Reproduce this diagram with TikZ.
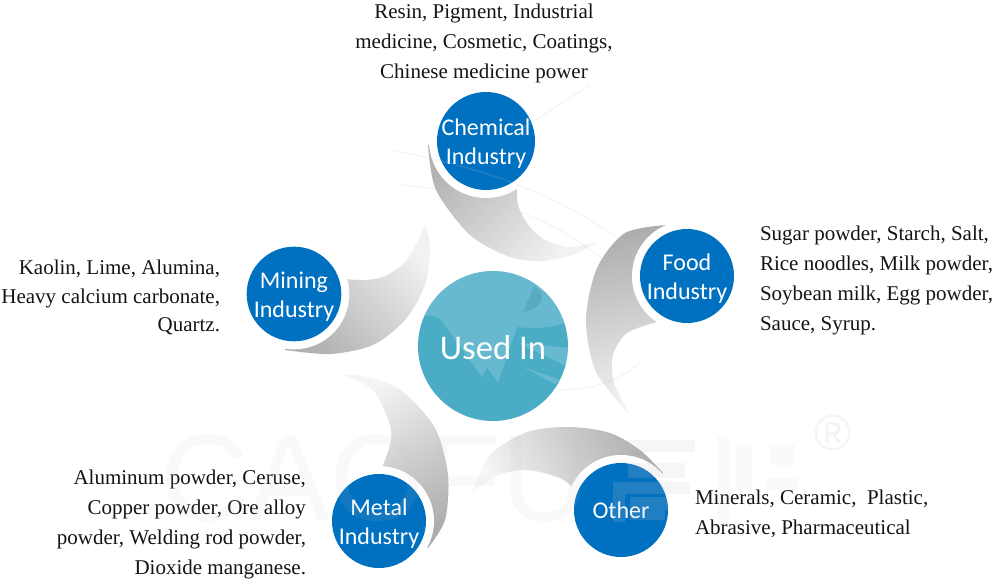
\documentclass[tikz,border=0pt]{standalone}
\usepackage{fontspec}
\setmainfont{Liberation Serif}
\newfontfamily\hubfont{Carlito}
\newfontfamily\markfont{Liberation Sans}
\definecolor{hubblue}{HTML}{0070C0}
\definecolor{coreteal}{HTML}{4BACC6}
\definecolor{markgrey}{HTML}{C8C8C8}
\tikzset{
  hub/.style={circle,fill=hubblue,inner sep=0pt,outer sep=0pt,
    preaction={draw=white,line width=12pt}},
  hublabel/.style={text=white,inner sep=0pt,align=center,yshift=-2.25pt,
    font=\hubfont\fontsize{18}{21.8}\selectfont},
  core/.style={circle,fill=coreteal,text=white,inner sep=0pt,outer sep=0pt,
    font=\hubfont\fontsize{26}{32}\selectfont},
  blurb/.style={inner sep=0pt,outer sep=0pt,text=black!92,font=\fontsize{15.75}{22.4}\selectfont},
  tightblurb/.style={blurb,font=\fontsize{15.75}{21.4}\selectfont},
  swoosh/.style={draw=none},
  wm/.style={fill=markgrey,fill opacity=.17,draw=none},
  wmpale/.style={fill=markgrey,fill opacity=.09,draw=none},
  wmline/.style={draw=markgrey,draw opacity=.18,line width=1pt}
}
\begin{document}
\begin{tikzpicture}[x=.75pt,y=-.75pt]
\useasboundingbox (0,0) rectangle (1000,581);
% swooshes
\shade[swoosh,top color=black!30,bottom color=black!5,shading angle=45]
  plot[smooth] coordinates {(428,145) (436,190) (470,235) (510,257) (543,261) (575,254) (597,242)}
  -- plot[smooth] coordinates {(597,242) (567,247) (542,238) (527,223) (518,205) (517,185)}
  -- (486,140) -- cycle;
\shade[swoosh,top color=black!5,bottom color=black!30,shading angle=-45]
  plot[smooth] coordinates {(425,225) (430,247) (425,285) (405,320) (373,345) (330,354) (285,350)}
  -- (294,294) -- (345,279)
  -- plot[smooth] coordinates {(345,279) (365,280) (385,276) (407,260) (425,225)}
  -- cycle;
\shade[swoosh,top color=black!4,bottom color=black!32,shading angle=30]
  plot[smooth] coordinates {(340,374) (372,378) (403,392) (435,428) (448,475) (445,520) (428,548)}
  -- (379,521) -- (381,470)
  -- plot[smooth] coordinates {(381,470) (390,445) (390,425) (373,390) (340,374)}
  -- cycle;
\shade[swoosh,top color=black!32,bottom color=black!3,shading angle=-65]
  plot[smooth] coordinates {(472,493) (490,455) (527,432) (570,427) (610,433) (640,450) (663,473)}
  -- (621,510) -- (575,490)
  -- plot[smooth] coordinates {(575,490) (560,478) (527,470) (495,476) (472,493)}
  -- cycle;
\shade[swoosh,top color=black!32,bottom color=black!4,shading angle=10]
  plot[smooth] coordinates {(667,225) (625,233) (597,268) (586,320) (596,372) (630,415)}
  -- plot[smooth] coordinates {(630,415) (614,383) (613,355) (627,333) (657,322)}
  -- (688,276) -- cycle;
% hubs
\node[core,minimum size=112.5pt] (usedin) at (493,346) {\rule{0pt}{21pt}Used In};
\node[hub,minimum size=73.5pt,label={[hublabel]center:Chemical\\Industry}] (chem) at (486,141) {};
\node[hub,minimum size=70.5pt,label={[hublabel]center:Food\\Industry}] (food) at (687,276) {};
\node[hub,minimum size=71pt,label={[hublabel]center:Mining\\Industry}] (mining) at (294,294) {};
\node[hub,minimum size=70.5pt,label={[hublabel]center:Metal\\Industry}] (metal) at (379,521) {};
\node[hub,minimum size=70.5pt,label={[hublabel,yshift=2.25pt]center:Other}] (other) at (621,510) {};
% blurbs
\node[blurb,align=center,anchor=north] (chemtext) at (484,4) {Resin, Pigment, Industrial\\medicine, Cosmetic, Coatings,\\Chinese medicine power};
\node[blurb,align=left,anchor=north west] (foodtext) at (760,226) {Sugar powder, Starch, Salt,\\Rice noodles, Milk powder,\\Soybean milk, Egg powder,\\Sauce, Syrup.};
\node[tightblurb,align=right,anchor=north east] (miningtext) at (220,260) {Kaolin, Lime, Alumina,\\Heavy calcium carbonate,\\Quartz.};
\node[blurb,align=right,anchor=north east] (metaltext) at (306,470) {Aluminum powder, Ceruse,\\Copper powder, Ore alloy\\powder, Welding rod powder,\\Dioxide manganese.};
\node[blurb,align=left,anchor=north west] (othertext) at (695,490) {Minerals, Ceramic,\ \ Plastic,\\Abrasive, Pharmaceutical};
% watermark: lettering
\node[inner sep=0pt,text=markgrey,text opacity=.1,anchor=center,font=\markfont\fontsize{92}{92}\selectfont] (mark) at (375,478) {CAOFU};
\node[inner sep=0pt,text=markgrey,text opacity=.2,font=\markfont\fontsize{38}{38}\selectfont] (regmark) at (833,433) {®};
% watermark: logotype blocks
\fill[wm] (613,440) rectangle (695,452);
\fill[wm] (628,463) rectangle (685,478);
\fill[wm] (613,482) rectangle (690,494);
\fill[wm] (613,494) rectangle (625,522);
\fill[wm] (630,497) rectangle (668,510);
\fill[wm] (630,510) rectangle (665,520);
\fill[wmpale] (717,437) rectangle (730,525);
\fill[wmpale] (735,445) rectangle (752,490);
\fill[wmpale] (770,445) rectangle (795,465);
\fill[wmpale] (765,478) rectangle (797,490);
% watermark: logo inside the core circle
\begin{scope}
\clip (usedin.center) circle (75);
\fill[white,fill opacity=.16] (410,230) -- (418,320) .. controls (425,314) and (437,313) .. (443,323)
  -- (470,360) -- (482,377) -- (487,367) -- (498,383) -- (517,327)
  .. controls (535,329) and (550,328) .. (570,322) -- (580,230) -- cycle;
\fill[coreteal!85!black,fill opacity=.35] (534,286) .. controls (546,292) and (546,308) .. (523,312) -- cycle;
\fill[white,fill opacity=.16] (518,343) -- (570,348) -- (570,368) -- cycle;
\fill[white,fill opacity=.16] (523,367) -- (560,380) -- (555,384) -- cycle;
\end{scope}
% watermark: faint sweep lines
\draw[wmline] (390,150) .. controls (470,165) and (560,190) .. (640,255);
\draw[wmline] (590,85) -- (520,130);
\draw[wmline] (400,185) .. controls (470,190) and (560,215) .. (620,275);
\draw[wmline] (557,390) .. controls (590,390) and (620,382) .. (640,362);
\end{tikzpicture}
\end{document}
